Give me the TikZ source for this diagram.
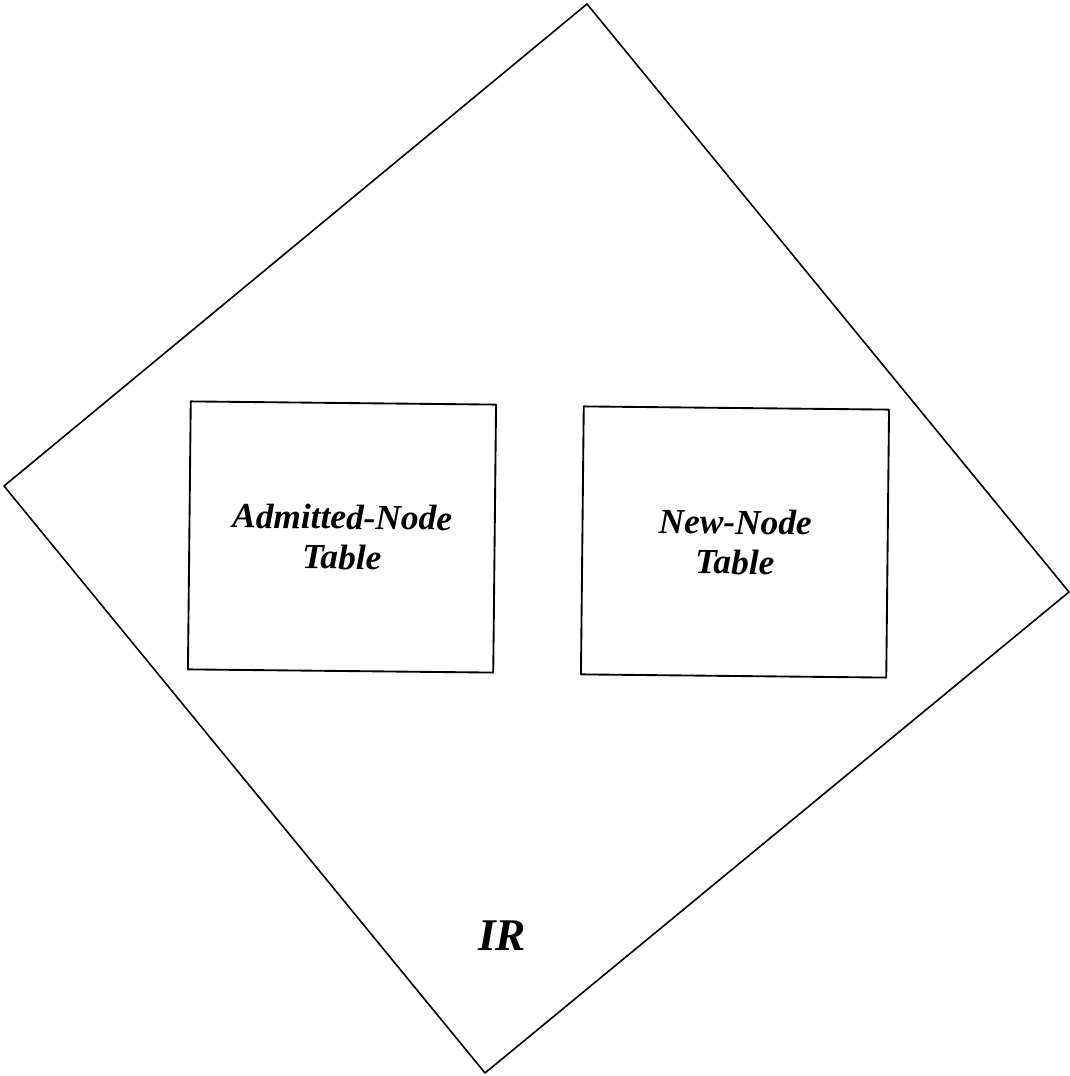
\documentclass[tikz,border=0pt]{standalone}
\usepackage{fontspec}
\setmainfont{Liberation Serif}
\begin{document}
\begin{tikzpicture}[x=.75pt,y=.75pt,line join=round,line cap=round,
	tbl/.style={draw,line width=1.4pt,minimum width=229pt,minimum height=201pt,rotate=-.6,align=center,
		font=\fontsize{26.5}{30}\selectfont\bfseries\itshape}]
	\useasboundingbox (0,0) rectangle (1070,1076);
	\path (587,1072)coordinate(T) (4,590)coordinate(L) (485,3)coordinate(B) (1069,484)coordinate(R);
	\draw[line width=1.2pt] (T)--(L)--(B)--(R)--cycle;
	\node[tbl] (adm) at (342,539) {Admitted-Node\\Table};
	\node[tbl] (new) at (735,534) {New-Node\\Table};
	\node[font=\fontsize{34}{34}\selectfont\bfseries\itshape] (ir) at (502,140) {IR};
\end{tikzpicture}
\end{document}
